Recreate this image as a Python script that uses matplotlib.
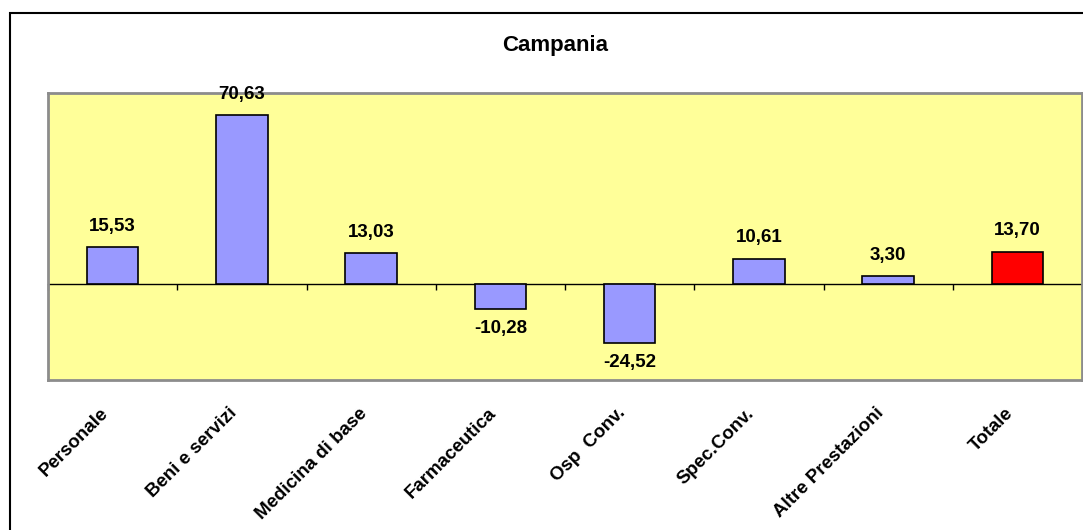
import matplotlib
matplotlib.use("Agg")
import matplotlib.pyplot as plt
from matplotlib.patches import Rectangle
from matplotlib.transforms import ScaledTranslation
import numpy as np

plt.rcParams['font.family'] = ['Liberation Sans', 'DejaVu Sans']

categories = ["Personale", "Beni e servizi", "Medicina di base", "Farmaceutica",
              "Osp  Conv.", "Spec.Conv.", "Altre Prestazioni", "Totale"]
values = [15.53, 70.63, 13.03, -10.28, -24.52, 10.61, 3.30, 13.70]
title = "Campania"
y_min, y_max = -40, 80

W, H = 1083, 530
fig = plt.figure(figsize=(W / 100, H / 100), dpi=100)
ax = fig.add_axes([48 / W, (H - 380) / H, (1082 - 48) / W, (380 - 93) / H])

x = np.arange(len(categories))
colors = ["#9999FF"] * (len(values) - 1) + ["#FF0000"]
bars = ax.bar(x, values, width=0.4, color=colors, edgecolor="black",
              linewidth=1.2, zorder=3)

ax.set_xlim(-0.5, len(categories) - 0.5)
ax.set_ylim(y_min, y_max)
ax.set_facecolor("#FFFF99")
for s in ax.spines.values():
    s.set_color("#8C8C8C")
    s.set_linewidth(2)
ax.set_yticks([])

# category labels along the bottom of the plot area
ax.set_xticks(x)
ax.set_xticklabels(categories, rotation=45, ha="right", va="center",
                   rotation_mode="anchor", fontsize=13.5, fontweight="bold")
ax.tick_params(axis="x", length=0, pad=22)
shift = ScaledTranslation(-0.07, 0, fig.dpi_scale_trans)
for lab in ax.get_xticklabels():
    lab.set_transform(lab.get_transform() + shift)

# category axis crossing at zero, with ticks between the categories
zero_loc = (0 - y_min) / (y_max - y_min)
sec = ax.secondary_xaxis(zero_loc)
sec.set_xticks(np.arange(len(categories) + 1) - 0.5)
sec.set_xticklabels([])
sec.tick_params(axis="x", direction="out", length=4, width=1, color="black")
sec.spines["bottom"].set_color("black")
sec.spines["bottom"].set_linewidth(1)

# value labels
for b, v in zip(bars, values):
    txt = f"{v:.2f}".replace(".", ",")
    cx = b.get_x() + b.get_width() / 2
    if v >= 0:
        ax.annotate(txt, (cx, v), xytext=(0, 9), textcoords="offset points",
                    ha="center", va="bottom", fontsize=13.5, fontweight="bold",
                    zorder=4, annotation_clip=False)
    else:
        ax.annotate(txt, (cx, v), xytext=(0, -8), textcoords="offset points",
                    ha="center", va="top", fontsize=13.5, fontweight="bold",
                    zorder=4, annotation_clip=False)

fig.text(555 / W, (H - 46) / H, title, ha="center", va="center",
         fontsize=16, fontweight="bold")

# chart area frame
fig.add_artist(Rectangle((10 / W, -0.1), 1.2, (H - 13) / H + 0.1,
                         transform=fig.transFigure, fill=False,
                         edgecolor="black", linewidth=1.5))

fig.savefig("out.png", dpi=100)
